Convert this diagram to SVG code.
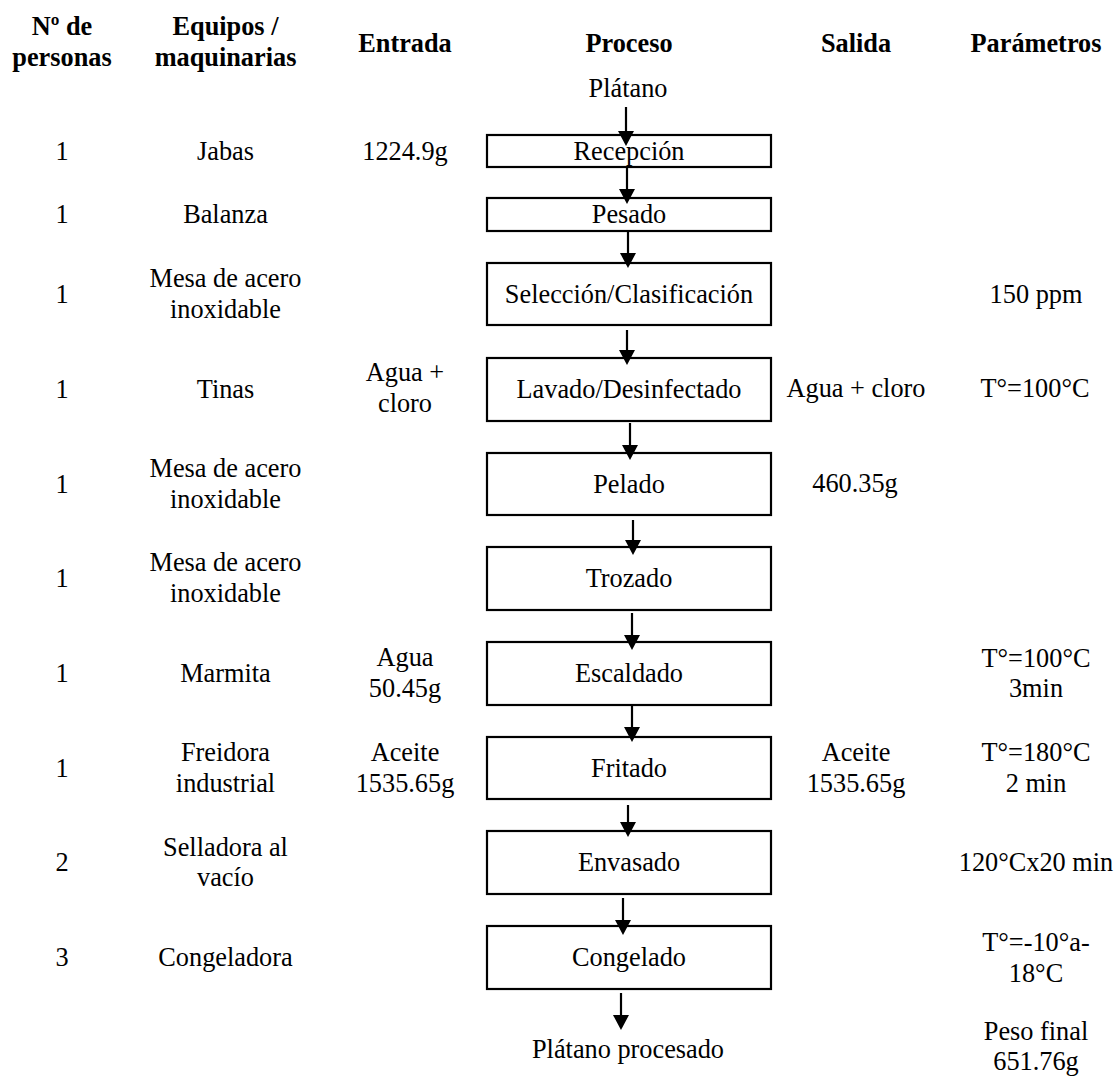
<svg xmlns="http://www.w3.org/2000/svg" width="1115" height="1077" viewBox="0 0 1115 1077">
<defs>
<style>
text{font-family:"Liberation Serif","Times New Roman",serif;font-size:26.3px;fill:#000;text-anchor:middle}
.h{font-weight:bold}
.box{fill:#fff;stroke:#000;stroke-width:2.2}
.arr{stroke:#000;stroke-width:2.2;fill:none;marker-end:url(#ah)}
</style>
<marker id="ah" viewBox="0 0 15 16" markerWidth="15" markerHeight="16" refX="0" refY="8" orient="auto" markerUnits="userSpaceOnUse">
<path d="M0,0 L15,8 L0,16 z" fill="#000"/>
</marker>
</defs>
<rect width="1115" height="1077" fill="#fff"/>
<g id="headers">
<text class="h" x="62" y="35">Nº de</text>
<text class="h" x="62" y="66">personas</text>
<text class="h" x="225.5" y="35">Equipos /</text>
<text class="h" x="225.5" y="66">maquinarias</text>
<text class="h" x="405" y="52">Entrada</text>
<text class="h" x="629" y="52">Proceso</text>
<text class="h" x="856" y="52">Salida</text>
<text class="h" x="1036" y="52">Parámetros</text>
</g>
<g id="start"><text x="628" y="97">Plátano</text></g>
<g id="n1"><rect class="box" x="487" y="135" width="284" height="32"/><text x="629" y="160">Recepción</text></g>
<g id="n2"><rect class="box" x="487" y="198" width="284" height="33"/><text x="629" y="223">Pesado</text></g>
<g id="n3"><rect class="box" x="487" y="263" width="284" height="62"/><text x="629" y="303">Selección/Clasificación</text></g>
<g id="n4"><rect class="box" x="487" y="358" width="284" height="63"/><text x="629" y="398">Lavado/Desinfectado</text></g>
<g id="n5"><rect class="box" x="487" y="453" width="284" height="62"/><text x="629" y="493">Pelado</text></g>
<g id="n6"><rect class="box" x="487" y="547" width="284" height="63"/><text x="629" y="587">Trozado</text></g>
<g id="n7"><rect class="box" x="487" y="642" width="284" height="63"/><text x="629" y="682">Escaldado</text></g>
<g id="n8"><rect class="box" x="487" y="737" width="284" height="62"/><text x="629" y="777">Fritado</text></g>
<g id="n9"><rect class="box" x="487" y="831" width="284" height="63"/><text x="629" y="871">Envasado</text></g>
<g id="n10"><rect class="box" x="487" y="926" width="284" height="63"/><text x="629" y="966">Congelado</text></g>
<g id="end"><text x="628" y="1058">Plátano procesado</text></g>
<g id="connectors">
<line class="arr" x1="626" y1="107" x2="626" y2="131"/>
<line class="arr" x1="627" y1="167" x2="627" y2="189"/>
<line class="arr" x1="628" y1="231" x2="628" y2="253"/>
<line class="arr" x1="627" y1="330" x2="627" y2="350"/>
<line class="arr" x1="630" y1="423" x2="630" y2="445"/>
<line class="arr" x1="633" y1="520" x2="633" y2="540"/>
<line class="arr" x1="632" y1="613" x2="632" y2="635"/>
<line class="arr" x1="632" y1="706" x2="632" y2="727"/>
<line class="arr" x1="628" y1="805" x2="628" y2="822"/>
<line class="arr" x1="623" y1="898" x2="623" y2="920"/>
<line class="arr" x1="621" y1="993" x2="621" y2="1015"/>
</g>
<g id="col-personas">
<text x="62" y="160">1</text>
<text x="62" y="223">1</text>
<text x="62" y="303">1</text>
<text x="62" y="398">1</text>
<text x="62" y="493">1</text>
<text x="62" y="587">1</text>
<text x="62" y="682">1</text>
<text x="62" y="777">1</text>
<text x="62" y="871">2</text>
<text x="62" y="966">3</text>
</g>
<g id="col-equipos">
<text x="225.5" y="160">Jabas</text>
<text x="225.5" y="223">Balanza</text>
<text x="225.5" y="287">Mesa de acero</text>
<text x="225.5" y="318">inoxidable</text>
<text x="225.5" y="398">Tinas</text>
<text x="225.5" y="477">Mesa de acero</text>
<text x="225.5" y="508">inoxidable</text>
<text x="225.5" y="571">Mesa de acero</text>
<text x="225.5" y="602">inoxidable</text>
<text x="225.5" y="682">Marmita</text>
<text x="225.5" y="761">Freidora</text>
<text x="225.5" y="792">industrial</text>
<text x="225.5" y="856">Selladora al</text>
<text x="225.5" y="886">vacío</text>
<text x="225.5" y="966">Congeladora</text>
</g>
<g id="col-entrada">
<text x="405" y="160">1224.9g</text>
<text x="405" y="381">Agua +</text>
<text x="405" y="412">cloro</text>
<text x="405" y="666">Agua</text>
<text x="405" y="697">50.45g</text>
<text x="405" y="761">Aceite</text>
<text x="405" y="792">1535.65g</text>
</g>
<g id="col-salida">
<text x="856" y="397">Agua + cloro</text>
<text x="855" y="492">460.35g</text>
<text x="856" y="761">Aceite</text>
<text x="856" y="792">1535.65g</text>
</g>
<g id="col-parametros">
<text x="1036" y="303">150 ppm</text>
<text x="1035" y="397">T°=100°C</text>
<text x="1036" y="667">T°=100°C</text>
<text x="1036" y="697">3min</text>
<text x="1036" y="761">T°=180°C</text>
<text x="1036" y="792">2 min</text>
<text x="1036" y="871">120°Cx20 min</text>
<text x="1036" y="951">T°=-10°a-</text>
<text x="1036" y="982">18°C</text>
<text x="1036" y="1040">Peso final</text>
<text x="1036" y="1070">651.76g</text>
</g>
</svg>
